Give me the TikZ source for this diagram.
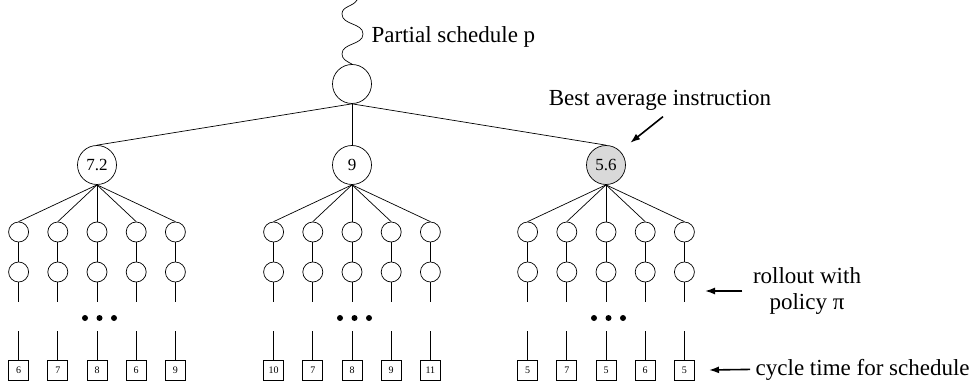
\documentclass[tikz,border=0pt]{standalone}
\usepackage{fontspec}
\setmainfont{Liberation Serif}
\usepackage{tikz}
\usetikzlibrary{arrows.meta,positioning,shapes}

\begin{document}
\begin{tikzpicture}[x=1pt,y=-1pt,
            state/.style={draw,circle,minimum size=39pt,inner sep=0pt,font=\fontsize{17}{17}\selectfont},
            best/.style={state,fill=black!15},
            roll/.style={draw,circle,minimum size=20pt,inner sep=0pt},
            cyc/.style={draw,rectangle,minimum size=20pt,inner sep=0pt,font=\fontsize{10}{10}\selectfont},
            dot/.style={circle,fill,inner sep=0pt,minimum size=6pt},
            lab/.style={font=\fontsize{23}{26}\selectfont,align=center},
            every path/.style={line width=0.7pt},
            pointer/.style={draw,-{Latex[length=10pt,width=7pt]},line width=1.6pt}
          ]
          \useasboundingbox (0,0) rectangle (974,387);

          %root and partial schedule
          \node[state] (root) at (352,84) {};
          \coordinate (wtop) at (357,0);
          \draw (wtop) to[out=-120,in=90] (342,14) to[out=-90,in=90] (363,34)
                to[out=-90,in=90] (342,54) to[out=-90,in=150] (root.north);
          \node[lab,anchor=base west] (part) at (368,43) {Partial schedule p};

          %instructions
          \node[state] (c1) at (97,165) {7.2};
          \node[state] (c2) at (352,165) {9};
          \node[best] (c3) at (606,165) {5.6};
          \foreach \c in {1,2,3}
            \draw (root.south) -- (c\c.north);

          %rollouts
          \foreach \c/\x/\vals in {1/97/{6,7,8,6,9},2/352/{10,7,8,9,11},3/606/{5,7,5,6,5}}{
            \foreach \v [count=\k] in \vals{
              \node[roll] (a\c\k) at ({\x+(\k-3)*39.2},232) {};
              \node[roll] (b\c\k) at ({\x+(\k-3)*39.2},272) {};
              \coordinate (e\c\k) at ({\x+(\k-3)*39.2},302);
              \coordinate (f\c\k) at ({\x+(\k-3)*39.2},331);
              \node[cyc] (d\c\k) at ({\x+(\k-3)*39.2},370) {\v};
              \draw (c\c.south) -- (a\c\k.north);
              \draw (a\c\k) -- (b\c\k) -- (e\c\k);
              \draw (f\c\k) -- (d\c\k);
            }
            \node[dot] (p\c1) at ({\x-12},318) {};
            \node[dot] (p\c2) at ({\x+2.5},318) {};
            \node[dot] (p\c3) at ({\x+17},318) {};
          }

          %labels
          \node[lab,anchor=base] (bestlab) at (660,106) {Best average instruction};
          \node[lab] (rolllab) at (807,291) {rollout with\\policy π};
          \node[lab,anchor=base west] (cyclab) at (752,375) {cycle time for schedule};
          \coordinate (rollend) at (705,291);
          \coordinate (cycend) at (709,370);

          \path
          ([xshift=3pt,yshift=-2pt]bestlab.south) edge[pointer,shorten >=13pt] (c3.north east)
          (rolllab.west) edge[pointer,shorten <=7pt] (rollend)
          (cyclab.west) edge[pointer,shorten <=2pt] (cycend)
          ;

      \end{tikzpicture}
\end{document}
